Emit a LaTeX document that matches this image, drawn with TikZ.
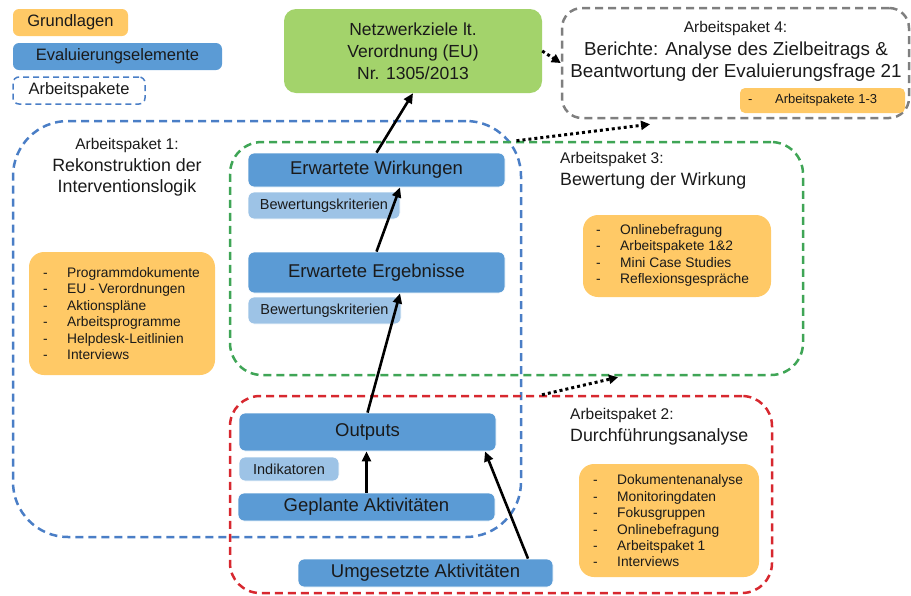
\documentclass[tikz,border=0pt]{standalone}
\usepackage{fontspec}
\setmainfont{Liberation Sans}
\usetikzlibrary{arrows.meta,calc}

\definecolor{grundorange}{HTML}{FFC966}
\definecolor{evalblue}{HTML}{5B9BD5}
\definecolor{critblue}{HTML}{9DC3E6}
\definecolor{goalgreen}{HTML}{A3D36B}
\definecolor{apblue}{HTML}{4A7EC6}
\definecolor{apgreen}{HTML}{3FA556}
\definecolor{apred}{HTML}{D7282F}
\definecolor{apgray}{HTML}{7F7F7F}
\definecolor{ink}{HTML}{1A1A1A}

% list entry: dash, gap, text
\newcommand{\itm}[1]{\makebox[24pt][l]{-}#1}
\newcommand{\itmw}[1]{\makebox[27pt][l]{-}#1}

\begin{document}
\begin{tikzpicture}[x=1pt,y=-1pt,
  every node/.style={text=ink},
  container/.style={draw, line width=2.5pt, dash pattern=on 8pt off 5pt, inner sep=0pt},
  fillbox/.style={inner sep=0pt, rounded corners=6pt},
  evalbox/.style={fillbox, fill=evalblue, draw=white, line width=0.8pt,
    font=\fontsize{18.5}{22}\selectfont},
  critbox/.style={fillbox, fill=critblue, draw=white, line width=0.8pt,
    font=\fontsize{14.5}{17}\selectfont},
  srcbox/.style={fillbox, fill=grundorange, rounded corners=15pt},
  listtext/.style={anchor=west, inner sep=0pt, align=left,
    font=\fontsize{13.8}{16.4}\selectfont},
  legendtext/.style={font=\fontsize{16.5}{20}\selectfont},
  aptitle/.style={inner sep=0pt, font=\fontsize{15.5}{19}\selectfont},
  apname/.style={inner sep=0pt, font=\fontsize{17.8}{21}\selectfont},
  flow/.style={draw=black, line width=2.6pt, -{Triangle[length=10pt,width=9pt]}},
  dotflow/.style={draw=black, line width=3pt, dash pattern=on 3pt off 3pt,
    -{Triangle[length=9pt,width=9pt]}}
]
\useasboundingbox (0,0) rectangle (911,595);

% work packages (dashed frames)
\node[container, draw=apblue,  rounded corners=55pt, minimum width=508pt, minimum height=416pt] (ap1) at (267,329) {};
\node[container, draw=apgreen, rounded corners=32pt, minimum width=573pt, minimum height=233pt] (ap3) at (516.5,258.5) {};
\node[container, draw=apred,   rounded corners=30pt, minimum width=542pt, minimum height=197pt] (ap2) at (501,494.5) {};
\node[container, draw=apgray,  rounded corners=20pt, minimum width=347pt, minimum height=110pt] (ap4) at (735.5,63) {};

% legend
\node[fillbox, fill=grundorange, legendtext, minimum width=115pt, minimum height=27pt] (lgA) at (70.5,22.5) {Grundlagen};
\node[fillbox, fill=evalblue, legendtext, minimum width=209pt, minimum height=27pt] (lgB) at (117.5,56.5) {Evaluierungselemente};
\node[fillbox, draw=apblue, line width=1.5pt, dash pattern=on 6pt off 4pt, legendtext,
      minimum width=132pt, minimum height=27pt] (lgC) at (79,90.5) {Arbeitspakete};

% goal
\node[fillbox, fill=goalgreen, rounded corners=12pt, minimum width=258pt, minimum height=84pt,
      align=center, font=\fontsize{17.5}{22}\selectfont] (goal) at (413,51)
      {Netzwerkziele lt.\\Verordnung (EU)\\Nr. 1305/2013};

% work package 4
\node[aptitle] (t4a) at (735.5,28) {Arbeitspaket 4:};
\node[apname, align=center, font=\fontsize{18.8}{22}\selectfont] (t4b) at (736,62)
      {Berichte: Analyse des Zielbeitrags \&\\Beantwortung der Evaluierungsfrage 21};
\node[srcbox, rounded corners=5pt, minimum width=165pt, minimum height=25pt] (src4) at (822.5,100.5) {};
\node[listtext, font=\fontsize{13}{16}\selectfont] (l4) at (748,100.5) {\itmw{Arbeitspakete 1-3}};

% work package 1
\node[aptitle] (t1a) at (127,145) {Arbeitspaket 1:};
\node[apname, align=center] (t1b) at (127,177) {Rekonstruktion der\\Interventionslogik};
\node[srcbox, minimum width=186pt, minimum height=123pt] (src1) at (122,313.5) {};
\node[listtext] (l1) at (43,313.5) {\itm{Programmdokumente}\\\itm{EU - Verordnungen}\\\itm{Aktionspläne}\\
  \itm{Arbeitsprogramme}\\\itm{Helpdesk-Leitlinien}\\\itm{Interviews}};

% work package 3
\node[aptitle, anchor=west] (t3a) at (560,159) {Arbeitspaket 3:};
\node[apname, anchor=west] (t3b) at (560,181) {Bewertung der Wirkung};
\node[srcbox, minimum width=188pt, minimum height=82pt] (src3) at (677,256) {};
\node[listtext] (l3) at (596,255.5) {\itm{Onlinebefragung}\\\itm{Arbeitspakete 1\&2}\\\itm{Mini Case Studies}\\\itm{Reflexionsgespräche}};

% work package 2
\node[aptitle, anchor=west] (t2a) at (570,415) {Arbeitspaket 2:};
\node[apname, anchor=west] (t2b) at (570,437) {Durchführungsanalyse};
\node[srcbox, minimum width=180pt, minimum height=113pt] (src2) at (669,520.5) {};
\node[listtext] (l2) at (593,521) {\itm{Dokumentenanalyse}\\\itm{Monitoringdaten}\\\itm{Fokusgruppen}\\
  \itm{Onlinebefragung}\\\itm{Arbeitspaket 1}\\\itm{Interviews}};

% intervention logic chain
\node[evalbox, minimum width=257pt, minimum height=34pt] (ew) at (376.5,170) {Erwartete Wirkungen};
\node[critbox, minimum width=152pt, minimum height=27pt] (bk1) at (324,205.5) {Bewertungskriterien};
\node[evalbox, minimum width=257pt, minimum height=41pt] (ee) at (376.5,272.5) {Erwartete Ergebnisse};
\node[critbox, minimum width=153pt, minimum height=27pt] (bk2) at (324.5,310.5) {Bewertungskriterien};
\node[evalbox, minimum width=257pt, minimum height=38pt] (out) at (367.5,432) {Outputs};
\node[critbox, minimum width=100pt, minimum height=24pt] (ind) at (289,469) {Indikatoren};
\node[evalbox, minimum width=257pt, minimum height=28pt] (ga) at (366.5,507) {Geplante Aktivitäten};
\node[evalbox, minimum width=255pt, minimum height=28pt] (ua) at (425.5,573) {Umgesetzte Aktivitäten};

% solid arrows
\draw[flow] (out.north) -- ($(ee.south)+(23.5,0)$);
\draw[flow] (ee.north) -- ($(ew.south)+(23.5,0)$);
\draw[flow] (ew.north) -- (goal.south);
\draw[flow] (ga.north) -- (ga.north |- out.south);
\draw[flow] ($(ua.north)+(102.5,0)$) -- ($(out.south)+(117.5,0)$);

% dotted arrows
\draw[dotflow] (goal.east) -- (ap4.west);
\draw[dotflow] (ap3.north) -- ($(ap4.south)+(-85.5,5)$);
\draw[dotflow] ($(ap2.north)+(41,0)$) -- ($(ap3.south)+(101.5,1)$);
\end{tikzpicture}
\end{document}
